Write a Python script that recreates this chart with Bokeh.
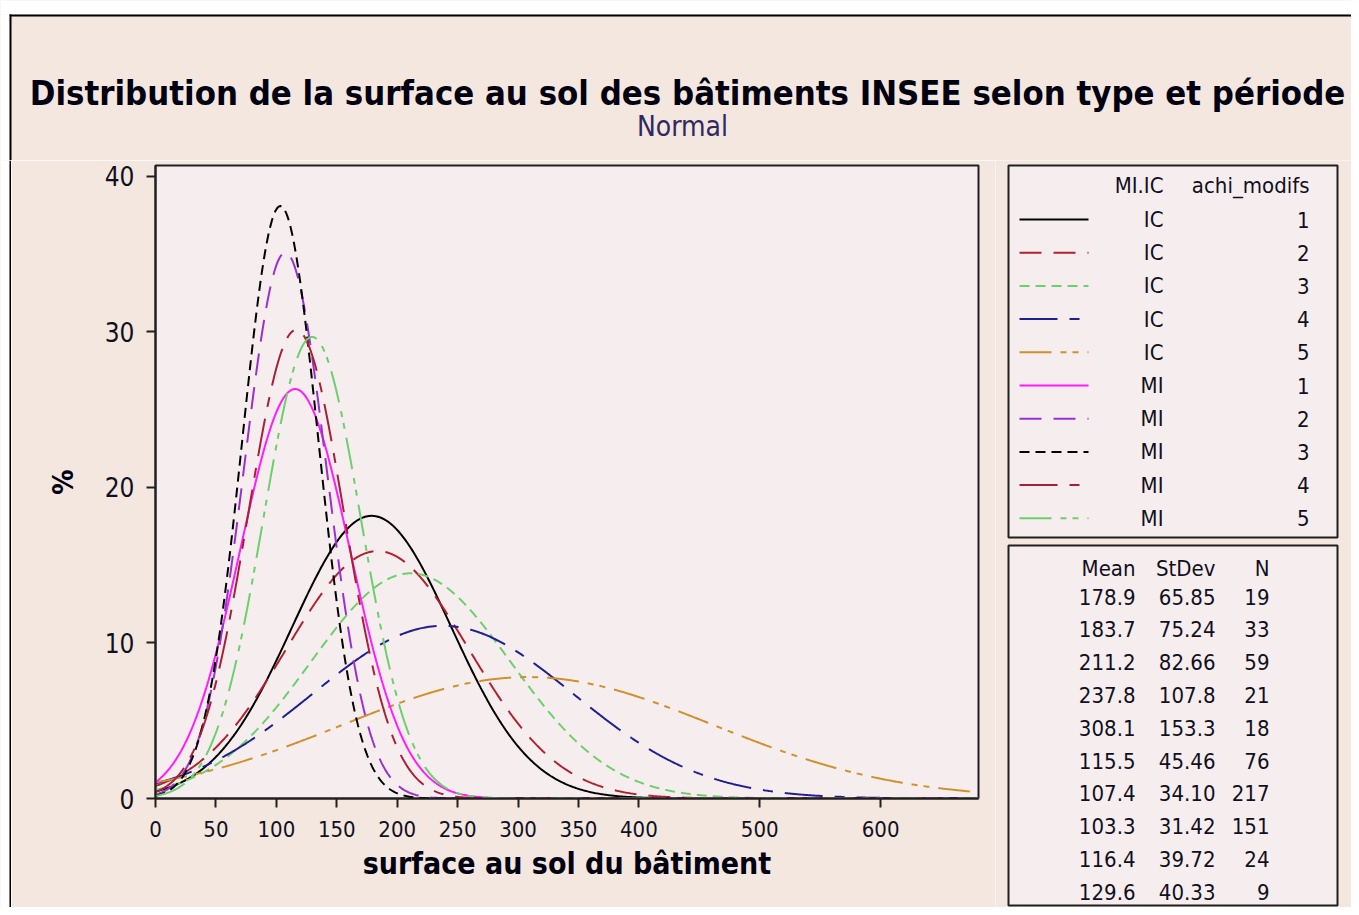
import numpy as np
from bokeh.plotting import figure
from bokeh.layouts import column, row
from bokeh.models import Range1d, FixedTicker
from bokeh.core.properties import value
from bokeh.embed import file_html
from bokeh.resources import INLINE

# ---------------- data ----------------
TITLE = "Distribution de la surface au sol des bâtiments INSEE selon type et période"
SUBTITLE = "Normal"
X_LABEL = "surface au sol du bâtiment"
Y_LABEL = "%"

mi_ic = ["IC", "IC", "IC", "IC", "IC", "MI", "MI", "MI", "MI", "MI"]
achi_modifs = ["1", "2", "3", "4", "5", "1", "2", "3", "4", "5"]
means = [178.9, 183.7, 211.2, 237.8, 308.1, 115.5, 107.4, 103.3, 116.4, 129.6]
stdevs = [65.85, 75.24, 82.66, 107.8, 153.3, 45.46, 34.10, 31.42, 39.72, 40.33]
counts = [19, 33, 59, 21, 18, 76, 217, 151, 24, 9]
mean_text = ["178.9", "183.7", "211.2", "237.8", "308.1", "115.5", "107.4", "103.3", "116.4", "129.6"]
stdev_text = ["65.85", "75.24", "82.66", "107.8", "153.3", "45.46", "34.10", "31.42", "39.72", "40.33"]
count_text = [str(c) for c in counts]

x_ticks = [0, 50, 100, 150, 200, 250, 300, 350, 400, 500, 600]
y_ticks = [0, 10, 20, 30, 40]
x_max = 681
y_max = 40.7
bin_width = 30  # density scaled to % per bin width

# ---------------- styles ----------------
FONT = "DejaVu Sans Condensed"
PAGE_BG = "#f3e7e0"
PLOT_BG = "#f6eeee"
TEXT = "#101020"
colors = ["#000000", "#b3202e", "#6ccf6c", "#1f1f8f", "#d0902c",
          "#ff1cff", "#9b30cf", "#000000", "#a82038", "#6ccf6c"]
dashes = ["solid", "22 12", "10 6", "38 12 10 12", "32 9 6 6 6 9",
          "solid", "22 12", "10 6", "38 12 10 12", "32 9 6 6 6 9"]


def blank(fig, bg):
    fig.axis.visible = False
    fig.grid.visible = False
    fig.outline_line_color = None
    fig.background_fill_color = bg
    fig.border_fill_color = bg


# ---------------- title figure ----------------
TW, TH = 1351, 160
t = figure(width=TW, height=TH, x_range=Range1d(0, TW), y_range=Range1d(TH, 0),
           min_border=0, frame_align=False, output_backend="svg", toolbar_location=None)
blank(t, PAGE_BG)
t.quad(left=0, right=TW, top=0, bottom=14, fill_color="white", line_color=None)
t.quad(left=9, right=TW, top=14, bottom=16, fill_color="black", line_color=None)
t.quad(left=0, right=9, top=14, bottom=TH, fill_color="white", line_color=None)
t.quad(left=9, right=11, top=14, bottom=TH, fill_color="black", line_color=None)
t.text(x=[687], y=[92], text=[TITLE], text_align="center", text_baseline="alphabetic",
       text_font=value(FONT), text_font_size="34.4px", text_font_style="bold", text_color="#000010")
t.text(x=[682], y=[126], text=[SUBTITLE], text_align="center", text_baseline="alphabetic",
       text_font=value(FONT), text_font_size="28px", text_color="#302860")

# ---------------- left strip (outer border) ----------------
H = 747
s = figure(width=11, height=H, x_range=Range1d(0, 11), y_range=Range1d(H, 0),
           min_border=0, frame_align=False, output_backend="svg", toolbar_location=None)
blank(s, PAGE_BG)
s.quad(left=0, right=9, top=0, bottom=H, fill_color="white", line_color=None)
s.quad(left=9, right=11, top=0, bottom=H, fill_color="black", line_color=None)

# ---------------- main plot ----------------
p = figure(width=984, height=H, x_range=Range1d(0, x_max), y_range=Range1d(0, y_max),
           min_border_left=144, min_border_right=17, min_border_top=5, min_border_bottom=109,
           frame_align=False, output_backend="svg", toolbar_location=None)
p.background_fill_color = PLOT_BG
p.border_fill_color = PAGE_BG
p.outline_line_color = "#202020"
p.outline_line_width = 2
p.grid.visible = False

p.xaxis.ticker = FixedTicker(ticks=x_ticks)
p.yaxis.ticker = FixedTicker(ticks=y_ticks)
for ax in (p.xaxis[0], p.yaxis[0]):
    ax.axis_line_color = "#202020"
    ax.axis_line_width = 2
    ax.major_tick_line_color = "#202020"
    ax.major_tick_line_width = 2
    ax.major_tick_in = 0
    ax.major_tick_out = 9
    ax.minor_tick_line_color = None
    ax.major_label_text_font = FONT
    ax.major_label_text_color = TEXT
    ax.axis_label_text_font = FONT
    ax.axis_label_text_font_style = "bold"
    ax.axis_label_text_color = "#000010"

p.xaxis.major_label_text_font_size = "22px"
p.xaxis.major_label_standoff = 13
p.xaxis.axis_label = X_LABEL
p.xaxis.axis_label_text_font_size = "30px"
p.xaxis.axis_label_standoff = 6
p.yaxis.major_label_text_font_size = "26px"
p.yaxis.major_label_standoff = 12
p.yaxis.axis_label = Y_LABEL
p.yaxis.axis_label_text_font_size = "28px"
p.yaxis.axis_label_standoff = 22

xs = np.linspace(0, x_max, 700)
for i in range(len(means)):
    m, sd = means[i], stdevs[i]
    ys = 100 * bin_width * np.exp(-0.5 * ((xs - m) / sd) ** 2) / (sd * np.sqrt(2 * np.pi))
    p.line(xs, ys, line_color=colors[i], line_width=2, line_dash=dashes[i])

# ---------------- legend figure ----------------
LW = 356
l = figure(width=LW, height=H, x_range=Range1d(0, LW), y_range=Range1d(H, 0),
           min_border=0, frame_align=False, output_backend="svg", toolbar_location=None)
blank(l, PAGE_BG)
l.quad(left=[13, 13], right=[342, 342], top=[5, 385], bottom=[377, 745],
       fill_color=PLOT_BG, line_color="#202020", line_width=2)

leg_font = dict(text_font=value(FONT), text_font_size="22px", text_color=TEXT,
                text_baseline="middle", text_align="right")
l.text(x=[168, 314], y=[25, 25], text=["MI.IC", "achi_modifs"], **leg_font)
rows1 = [59 + 33.2 * k for k in range(len(mi_ic))]
l.text(x=[168] * len(mi_ic), y=rows1, text=mi_ic, **leg_font)
l.text(x=[314] * len(mi_ic), y=rows1, text=achi_modifs, **leg_font)
for i, yy in enumerate(rows1):
    l.line([24, 93], [yy, yy], line_color=colors[i], line_width=2, line_dash=dashes[i])

l.text(x=[140, 220, 274], y=[408] * 3, text=["Mean", "StDev", "N"], **leg_font)
rows2 = [436 + 32.8 * k for k in range(len(means))]
l.text(x=[140] * len(means), y=rows2, text=mean_text, **leg_font)
l.text(x=[220] * len(means), y=rows2, text=stdev_text, **leg_font)
l.text(x=[274] * len(means), y=rows2, text=count_text, **leg_font)

layout = column(t, row(s, p, l))
open("out.html", "w").write(file_html(layout, INLINE))
